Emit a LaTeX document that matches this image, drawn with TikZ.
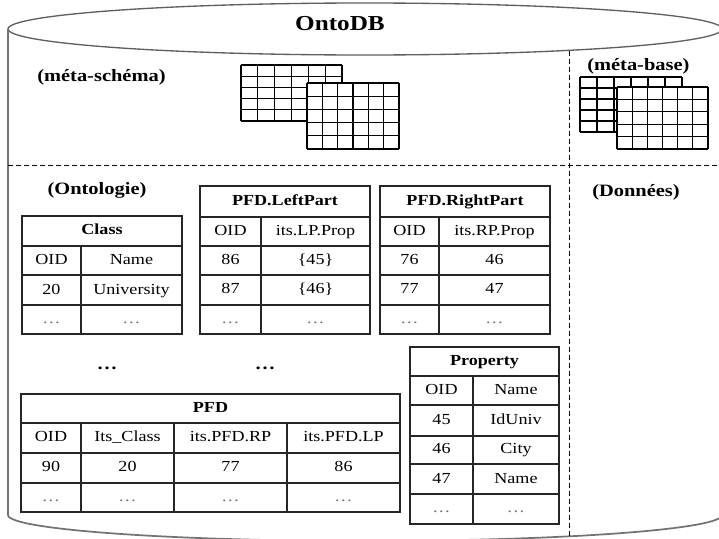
\documentclass[tikz,border=0pt]{standalone}
\usepackage{fontspec}
\setmainfont{Liberation Serif}[FakeStretch=1.18]
\usepackage{tikz}
\usetikzlibrary{positioning, calc}
\usepackage{xcolor}
\definecolor{cylgray}{RGB}{95, 95, 95}
\definecolor{dotgray}{RGB}{110, 110, 110}

\tikzset{
  tabline/.style={draw=black!85, line width=0.8pt},
  celltext/.style={inner sep=0pt, text height=8pt, text depth=2.4pt, font=\fontsize{11.5}{13}\selectfont},
  headtext/.style={celltext, font=\fontsize{11.5}{13}\selectfont\bfseries},
  zonelabel/.style={inner sep=0pt, font=\fontsize{13}{15}\selectfont\bfseries},
  zoneline/.style={line width=0.7pt, dash pattern=on 3.75pt off 2.25pt},
  cylline/.style={draw=cylgray, line width=1pt},
  gridline/.style={draw=black, line width=0.8pt}
}

% small sheet of cells: x0, y0, x1, y1
\newcommand{\minigrid}[4]{%
  \fill[white] (#1,#2) rectangle (#3,#4);
  \foreach \k in {0,...,6} \draw[gridline] ({#1+\k*(#3-#1)/6},#2) -- ({#1+\k*(#3-#1)/6},#4);
  \foreach \k in {0,...,5} \draw[gridline] (#1,{#2+\k*(#4-#2)/5}) -- (#3,{#2+\k*(#4-#2)/5});
}
\newcommand{\celldots}{{\color{dotgray}\dots}}

\begin{document}
\begin{tikzpicture}[x=0.75pt, y=-0.75pt]
  \useasboundingbox (0,0) rectangle (719,539);
  \fill[white] (0,0) rectangle (719,539);
  \clip (0,0) rectangle (719,539);

  % Cylinder
  \draw[cylline] (365,29) ellipse[x radius=357, y radius=26];
  \draw[cylline, line width=1.3pt, draw=black!55] (8,29) -- (8,515)
    arc[start angle=180, end angle=0, x radius=357, y radius=26] -- (722,29);
  \node[inner sep=0pt, font=\fontsize{16}{18}\selectfont\bfseries] (title) at (340,24) {OntoDB};

  % Zones
  \draw[zoneline] (8,165) -- (719,165);
  \coordinate (zonetop) at (569,51);
  \coordinate (zonebot) at (569,539);
  \draw[zoneline] (zonetop) -- (zonebot);
  \node[zonelabel, anchor=west] (metaschema) at (37,77) {(méta-schéma)};
  \node[zonelabel, anchor=west] (metabase) at (587,66) {(méta-base)};
  \node[zonelabel] (ontologie) at (97,190) {(Ontologie)};
  \node[zonelabel, anchor=west] (donnees) at (592,192) {(Données)};

  % Sheets
  \minigrid{241}{65}{342}{121}
  \minigrid{307}{83}{399}{149}
  \minigrid{580}{77}{682}{132}
  \minigrid{617}{87}{708}{149}

  % Class
  \draw[tabline] (22,216) rectangle (182,334);
  \foreach \y in {246,275,305} \draw[tabline] (22,\y) -- (182,\y);
  \draw[tabline] (81,246) -- (81,334);
  \node[headtext] (class) at (102,231) {Class};
  \foreach \a/\b [count=\r] in {OID/Name, 20/University, \celldots/\celldots} {
    \node[celltext] (class-a\r) at (51.5,{231.5+\r*29.4}) {\a};
    \node[celltext] (class-b\r) at (131.5,{231.5+\r*29.4}) {\b};
  }

  % PFD.LeftPart
  \draw[tabline] (200,186) rectangle (370,334);
  \foreach \y in {217,246,275,305} \draw[tabline] (200,\y) -- (370,\y);
  \draw[tabline] (261,217) -- (261,334);
  \node[headtext] (left) at (285,201.5) {PFD.LeftPart};
  \foreach \a/\b [count=\r] in {OID/its.LP.Prop, 86/\{45\}, 87/\{46\}, \celldots/\celldots} {
    \node[celltext] (left-a\r) at (230.5,{202+\r*29.4}) {\a};
    \node[celltext] (left-b\r) at (315.5,{202+\r*29.4}) {\b};
  }

  % PFD.RightPart
  \draw[tabline] (380,186) rectangle (550,334);
  \foreach \y in {217,246,275,305} \draw[tabline] (380,\y) -- (550,\y);
  \draw[tabline] (439,217) -- (439,334);
  \node[headtext] (right) at (465,201.5) {PFD.RightPart};
  \foreach \a/\b [count=\r] in {OID/its.RP.Prop, 76/46, 77/47, \celldots/\celldots} {
    \node[celltext] (right-a\r) at (409.5,{202+\r*29.4}) {\a};
    \node[celltext] (right-b\r) at (494.5,{202+\r*29.4}) {\b};
  }

  % Property
  \draw[tabline] (410,347) rectangle (559,524);
  \foreach \y in {376,405,436,464,494} \draw[tabline] (410,\y) -- (559,\y);
  \draw[tabline] (473,376) -- (473,524);
  \node[headtext] (property) at (484.5,361.5) {Property};
  \foreach \a/\b [count=\r] in {OID/Name, 45/IdUniv, 46/City, 47/Name, \celldots/\celldots} {
    \node[celltext] (prop-a\r) at (441.5,{361.5+\r*29.5}) {\a};
    \node[celltext] (prop-b\r) at (516,{361.5+\r*29.5}) {\b};
  }

  % more tables
  \node[inner sep=0pt, font=\fontsize{13}{15}\selectfont\bfseries] (more1) at (107,368) {\dots};
  \node[inner sep=0pt, font=\fontsize{13}{15}\selectfont\bfseries] (more2) at (265,368) {\dots};

  % PFD
  \draw[tabline] (21,394) rectangle (400,512);
  \foreach \y in {423,453,483} \draw[tabline] (21,\y) -- (400,\y);
  \foreach \x in {81,174,287} \draw[tabline] (\x,423) -- (\x,512);
  \node[headtext] (pfd) at (210.5,408.5) {PFD};
  \foreach \a/\b/\c/\d [count=\r] in {OID/Its\_Class/its.PFD.RP/its.PFD.LP, 90/20/77/86, \celldots/\celldots/\celldots/\celldots} {
    \node[celltext] (pfd-a\r) at (51,{408.5+\r*29.6}) {\a};
    \node[celltext] (pfd-b\r) at (127.5,{408.5+\r*29.6}) {\b};
    \node[celltext] (pfd-c\r) at (230.5,{408.5+\r*29.6}) {\c};
    \node[celltext] (pfd-d\r) at (343.5,{408.5+\r*29.6}) {\d};
  }
\end{tikzpicture}
\end{document}
